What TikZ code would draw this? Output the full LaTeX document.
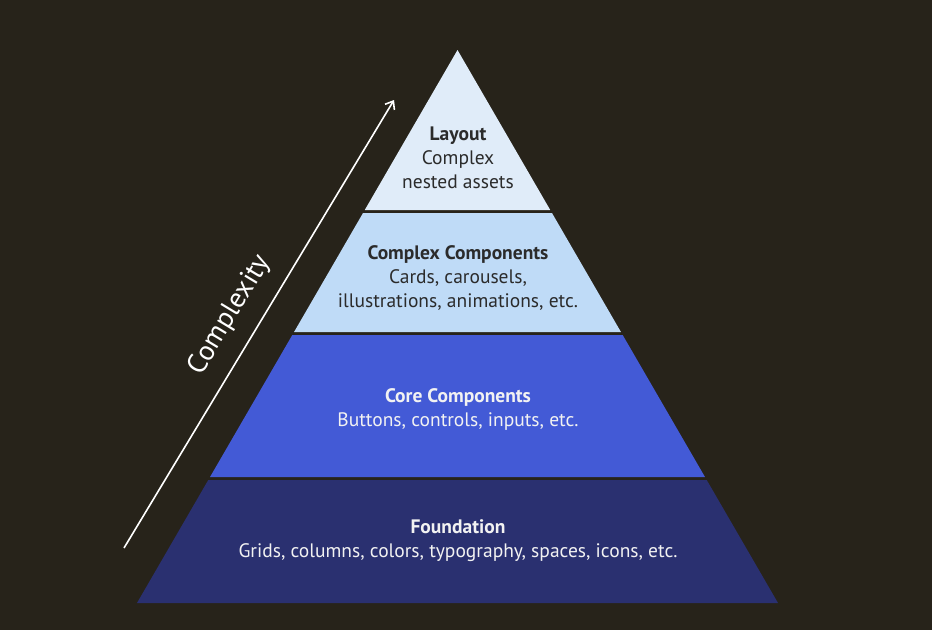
\documentclass[tikz,border=0pt]{standalone}
\usepackage{fontspec}
\setmainfont{PT Sans}
\usepackage{tikz}
\usetikzlibrary{arrows.meta}

\definecolor{bgc}{HTML}{27231A}
\definecolor{layoutc}{HTML}{E0ECF9}
\definecolor{complexc}{HTML}{BFDBF7}
\definecolor{corec}{HTML}{435AD6}
\definecolor{foundc}{HTML}{2A3070}
\definecolor{darktxt}{HTML}{2B2B2B}
\definecolor{lighttxt}{HTML}{F2F2F2}

\begin{document}
\begin{tikzpicture}[x=1pt,y=-1pt]
  \tikzset{level/.style = {align=center,inner sep=0pt,font=\fontsize{19.5}{24}\selectfont}}

  \fill[bgc] (0,0) rectangle (932,630);
  \useasboundingbox (0,0) rectangle (932,630);

  % pyramid bands, top to bottom
  \foreach \ya/\yb/\col in {50/210/layoutc, 213/332/complexc, 335/477/corec, 480/603/foundc}
    \fill[\col] ({457.5-0.5796*(\ya-50)},\ya) -- ({457.5+0.5796*(\ya-50)},\ya)
      -- ({457.5+0.5796*(\yb-50)},\yb) -- ({457.5-0.5796*(\yb-50)},\yb) -- cycle;

  \node[level,text=darktxt] (layout) at (458,158) {{\bfseries Layout}\\Complex\\nested assets};
  \node[level,text=darktxt] (complex) at (458,278) {{\bfseries Complex Components}\\Cards, carousels,\\illustrations, animations, etc.};
  \node[level,text=lighttxt] (core) at (458,409) {{\bfseries Core Components}\\Buttons, controls, inputs, etc.};
  \node[level,text=lighttxt] (found) at (458,541) {{\bfseries Foundation}\\Grids, columns, colors, typography, spaces, icons, etc.};

  \coordinate (low) at (124,548);
  \coordinate (high) at (394,100);
  \draw[white,line width=1.6pt,-{Straight Barb[length=7pt,width=11pt]}] (low) -- (high);
  \node[white,inner sep=0pt,font=\fontsize{28}{30}\selectfont,rotate=58.9] (cplx) at (230,315) {Complexity};
\end{tikzpicture}
\end{document}
